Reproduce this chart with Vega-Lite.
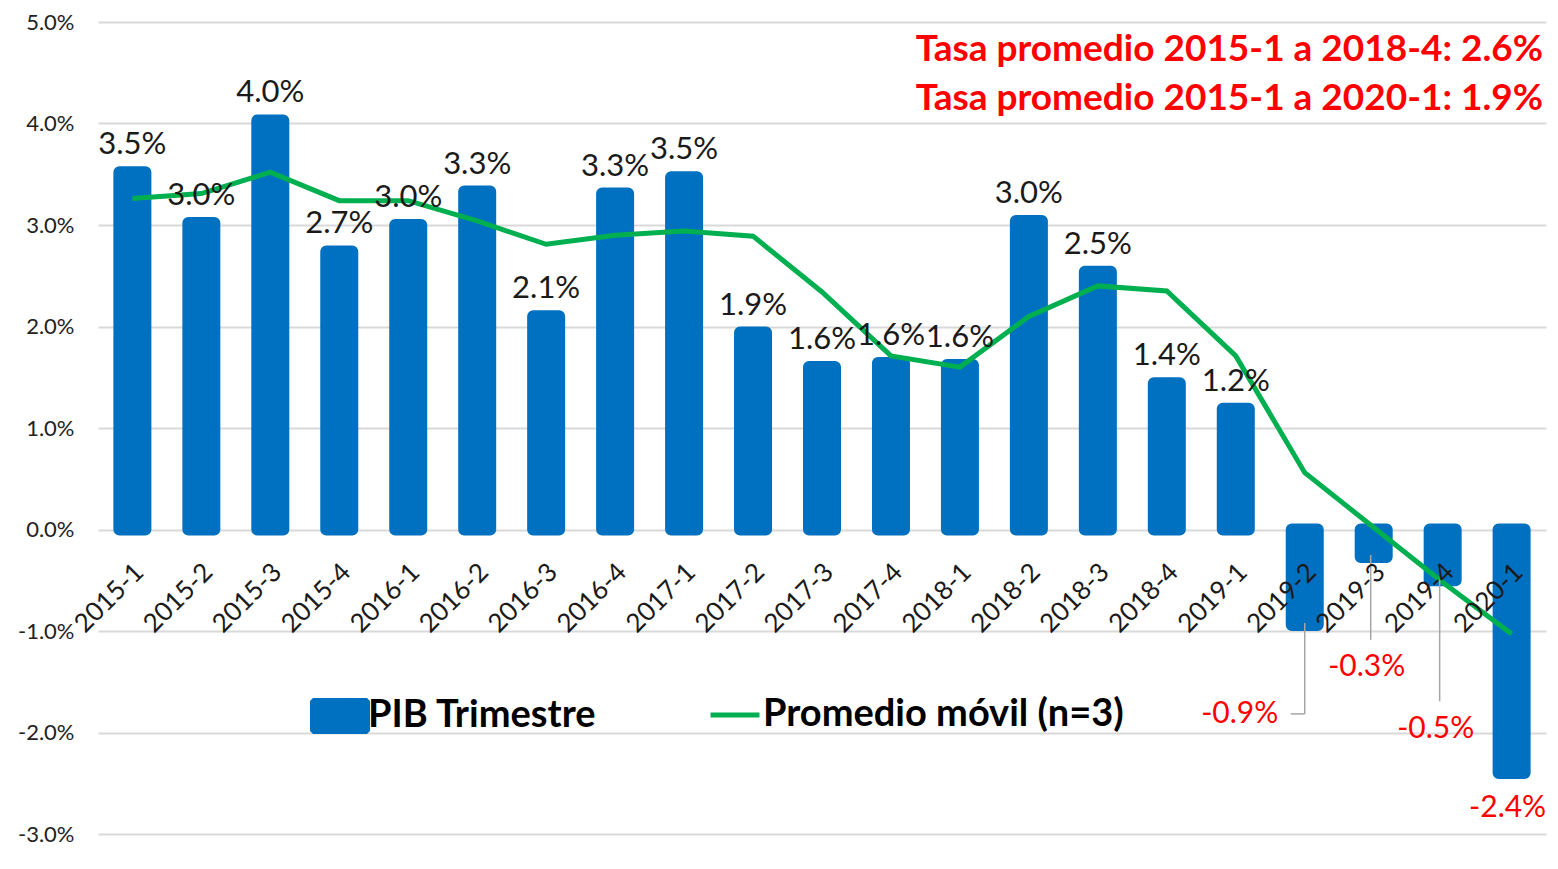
{
  "$schema": "https://vega.github.io/schema/vega-lite/v6.json",
  "width": 1448,
  "height": 812,
  "autosize": {"type": "none"},
  "padding": {"left": 98, "top": 22, "right": 12, "bottom": 35},
  "background": "white",
  "config": {"view": {"stroke": null}, "font": "Lato", "legend": {"padding": 0}},
  "title": {
    "text": ["Tasa promedio 2015-1 a 2018-4: 2.6%", "Tasa promedio 2015-1 a 2020-1: 1.9%"],
    "anchor": "end",
    "orient": "top",
    "frame": "group",
    "color": "#FF0000",
    "font": "Lato",
    "fontSize": 37,
    "fontWeight": "bold",
    "lineHeight": 49,
    "offset": -107,
    "dx": -3
  },
  "data": {
    "values": [
      {"q": "2015-1", "v": 0.0352, "ma": 0.0326, "label": "3.5%"},
      {"q": "2015-2", "v": 0.0302, "ma": 0.0331, "label": "3.0%"},
      {"q": "2015-3", "v": 0.0403, "ma": 0.0352, "label": "4.0%"},
      {"q": "2015-4", "v": 0.0274, "ma": 0.0324, "label": "2.7%"},
      {"q": "2016-1", "v": 0.0300, "ma": 0.0324, "label": "3.0%"},
      {"q": "2016-2", "v": 0.0333, "ma": 0.0304, "label": "3.3%"},
      {"q": "2016-3", "v": 0.0210, "ma": 0.0281, "label": "2.1%"},
      {"q": "2016-4", "v": 0.0331, "ma": 0.0290, "label": "3.3%"},
      {"q": "2017-1", "v": 0.0347, "ma": 0.0294, "label": "3.5%"},
      {"q": "2017-2", "v": 0.0194, "ma": 0.0289, "label": "1.9%"},
      {"q": "2017-3", "v": 0.0160, "ma": 0.0234, "label": "1.6%"},
      {"q": "2017-4", "v": 0.0164, "ma": 0.0171, "label": "1.6%"},
      {"q": "2018-1", "v": 0.0162, "ma": 0.0160, "label": "1.6%"},
      {"q": "2018-2", "v": 0.0304, "ma": 0.0210, "label": "3.0%"},
      {"q": "2018-3", "v": 0.0254, "ma": 0.0240, "label": "2.5%"},
      {"q": "2018-4", "v": 0.0144, "ma": 0.0235, "label": "1.4%"},
      {"q": "2019-1", "v": 0.0119, "ma": 0.0171, "label": "1.2%"},
      {"q": "2019-2", "v": -0.0094, "ma": 0.0056, "label": "-0.9%"},
      {"q": "2019-3", "v": -0.0027, "ma": 0.0002, "label": "-0.3%"},
      {"q": "2019-4", "v": -0.0050, "ma": -0.0052, "label": "-0.5%"},
      {"q": "2020-1", "v": -0.0240, "ma": -0.0103, "label": "-2.4%"}
    ]
  },
  "encoding": {
    "x": {
      "field": "q",
      "type": "nominal",
      "sort": null,
      "scale": {"paddingInner": 0.623, "paddingOuter": 0.31},
      "axis": {
        "title": null,
        "orient": "bottom",
        "offset": -304.5,
        "zindex": 1,
        "domain": false,
        "ticks": false,
        "grid": false,
        "labelAngle": -45,
        "labelAlign": "right",
        "labelBaseline": "top",
        "labelPadding": 29,
        "labelOffset": -2,
        "labelFontSize": 26,
        "labelFont": "Lato",
        "labelColor": "#1a1a1a",
        "labelOverlap": false,
        "labelBound": false
      }
    }
  },
  "layer": [
    {
      "mark": {"type": "bar", "stroke": "#0070C0", "strokeWidth": 12, "strokeJoin": "round"},
      "encoding": {
        "y": {
          "field": "v",
          "type": "quantitative",
          "scale": {"domain": [-0.03, 0.05], "nice": false, "zero": false},
          "axis": {
            "title": null,
            "domain": false,
            "ticks": false,
            "values": [-0.03, -0.02, -0.01, 0, 0.01, 0.02, 0.03, 0.04, 0.05],
            "labelExpr": "replace(format(datum.value, '.1%'), '\u2212', '-')",
            "labelFontSize": 22,
            "labelFont": "Lato",
            "labelPadding": 24,
            "labelColor": "#222222",
            "gridColor": "#D9D9D9",
            "gridWidth": 2
          }
        },
        "fill": {
          "datum": "PIB Trimestre",
          "scale": {"range": ["#0070C0"]},
          "legend": {
            "title": null,
            "orient": "none",
            "legendX": 212,
            "legendY": 664,
            "symbolType": "M-0.9,-0.6L0.9,-0.6L1,-0.5L1,0.5L0.9,0.6L-0.9,0.6L-1,0.5L-1,-0.5Z",
            "symbolSize": 3600,
            "symbolStrokeWidth": 0,
            "labelFont": "Lato",
            "labelFontSize": 38,
            "labelFontWeight": "bold",
            "labelColor": "#000000",
            "labelOffset": -2,
            "labelLimit": 0
          }
        }
      }
    },
    {
      "mark": {"type": "line", "strokeWidth": 5},
      "encoding": {
        "y": {"field": "ma", "type": "quantitative"},
        "stroke": {
          "datum": "Promedio móvil (n=3)",
          "scale": {"range": ["#00B050"]},
          "legend": {
            "title": null,
            "orient": "none",
            "legendX": 610,
            "legendY": 666,
            "symbolType": "stroke",
            "symbolSize": 2400,
            "symbolStrokeWidth": 5,
            "labelFont": "Lato",
            "labelFontSize": 38,
            "labelFontWeight": "bold",
            "labelColor": "#000000",
            "labelOffset": 1,
            "labelLimit": 0
          }
        }
      }
    },
    {
      "transform": [{"filter": "datum.q == '2019-2'"}],
      "mark": {"type": "rule", "color": "#A6A6A6", "strokeWidth": 1.5, "yOffset": -2, "y2Offset": 89},
      "encoding": {
        "y": {"field": "v", "type": "quantitative"},
        "y2": {"field": "v"}
      }
    },
    {
      "transform": [{"filter": "datum.q == '2019-2'"}],
      "mark": {"type": "rule", "color": "#A6A6A6", "strokeWidth": 1.5, "yOffset": 89, "x2Offset": -14},
      "encoding": {
        "x": {"field": "q", "type": "nominal", "sort": null, "bandPosition": 0.5},
        "x2": {"field": "q", "bandPosition": 0.5},
        "y": {"field": "v", "type": "quantitative"}
      }
    },
    {
      "transform": [{"filter": "datum.q == '2019-3'"}],
      "mark": {"type": "rule", "color": "#A6A6A6", "strokeWidth": 1.5, "xOffset": -3, "yOffset": -2, "y2Offset": 83},
      "encoding": {
        "y": {"field": "v", "type": "quantitative"},
        "y2": {"field": "v"}
      }
    },
    {
      "transform": [{"filter": "datum.q == '2019-4'"}],
      "mark": {"type": "rule", "color": "#A6A6A6", "strokeWidth": 1.5, "xOffset": -3, "yOffset": -1, "y2Offset": 121},
      "encoding": {
        "y": {"field": "v", "type": "quantitative"},
        "y2": {"field": "v"}
      }
    },
    {
      "transform": [{"filter": "datum.v > 0"}],
      "mark": {"type": "text", "dy": -27, "fontSize": 31, "font": "Lato", "color": "#1a1a1a", "baseline": "middle"},
      "encoding": {
        "y": {"field": "v", "type": "quantitative"},
        "text": {"field": "label"}
      }
    },
    {
      "transform": [{"filter": "datum.q == '2019-2'"}],
      "mark": {"type": "text", "dx": -65, "dy": 89, "fontSize": 30, "font": "Lato", "color": "#FF0000", "baseline": "middle"},
      "encoding": {
        "y": {"field": "v", "type": "quantitative"},
        "text": {"field": "label"}
      }
    },
    {
      "transform": [{"filter": "datum.q == '2019-3'"}],
      "mark": {"type": "text", "dx": -7, "dy": 110, "fontSize": 30, "font": "Lato", "color": "#FF0000", "baseline": "middle"},
      "encoding": {
        "y": {"field": "v", "type": "quantitative"},
        "text": {"field": "label"}
      }
    },
    {
      "transform": [{"filter": "datum.q == '2019-4'"}],
      "mark": {"type": "text", "dx": -7, "dy": 149, "fontSize": 30, "font": "Lato", "color": "#FF0000", "baseline": "middle"},
      "encoding": {
        "y": {"field": "v", "type": "quantitative"},
        "text": {"field": "label"}
      }
    },
    {
      "transform": [{"filter": "datum.q == '2020-1'"}],
      "mark": {"type": "text", "dx": -4, "dy": 35, "fontSize": 30, "font": "Lato", "color": "#FF0000", "baseline": "middle"},
      "encoding": {
        "y": {"field": "v", "type": "quantitative"},
        "text": {"field": "label"}
      }
    }
  ]
}
